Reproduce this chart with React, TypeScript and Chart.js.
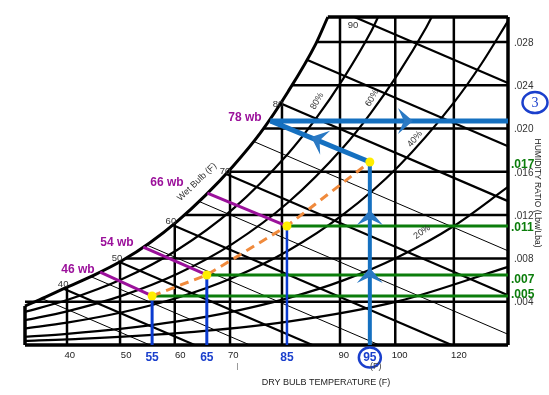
import React, { useEffect, useRef } from "react";
import { Chart, registerables } from "chart.js";

Chart.register(...registerables);

// ---------- data: dry-bulb (°F) and humidity ratio (lbw/lba) ----------
const xMin = 32.4;
const xMax = 119.8;
const yMax = 0.0303;

// saturation (100%) curve
const satDB = [32.4, 35, 40, 45, 50, 55, 60, 65, 70, 75, 80, 85, 87.2];
const satW = [0.0036, 0.00417, 0.00534, 0.00648, 0.0078, 0.00945, 0.01145, 0.0138, 0.0165, 0.0196, 0.0234, 0.0278, 0.0303];

// relative humidity curves
const rh80DB = [32.4, 40, 50, 60, 70, 80, 85, 90, 95, 96.3];
const rh80W = [0.00306, 0.00415, 0.00609, 0.0088, 0.01255, 0.01767, 0.02088, 0.02461, 0.02893, 0.0303];
const rh60DB = [32.4, 40, 50, 60, 70, 80, 90, 95, 100, 105, 106];
const rh60W = [0.00229, 0.00311, 0.00456, 0.00658, 0.00937, 0.01316, 0.01827, 0.02145, 0.02511, 0.02933, 0.0303];
const rh40DB = [32.4, 40, 50, 60, 70, 80, 90, 100, 110, 115, 119.8];
const rh40W = [0.00152, 0.00207, 0.00303, 0.00437, 0.00621, 0.00871, 0.01206, 0.01652, 0.02239, 0.02598, 0.02992];
const rh20DB = [32.4, 40, 50, 60, 70, 80, 90, 100, 110, 119.8];
const rh20W = [0.00076, 0.00103, 0.00151, 0.00218, 0.00309, 0.00433, 0.00597, 0.00815, 0.01099, 0.0146];
const rh10DB = [32.4, 40, 60, 80, 100, 119.8];
const rh10W = [0.00038, 0.00052, 0.00109, 0.00216, 0.00405, 0.00722];

// wet-bulb lines
const wbTemps = [35, 40, 45, 50, 55, 60, 65, 70, 75, 80, 85, 90];
const wbStartDB = [35.5, 39.4, 44.3, 49.5, 54.4, 59.1, 63.9, 68.7, 73.7, 78.6, 83.4, 92.0];
const wbStartW = [0.00428, 0.0052, 0.00632, 0.00766, 0.00924, 0.01108, 0.01326, 0.01582, 0.01882, 0.02233, 0.02636, 0.0303];
const wbEndDB = [55.0, 63.1, 73.1, 84.4, 96.5, 109.6, 119.8, 119.8, 119.8, 119.8, 119.8, 119.8];
const wbEndW = [0, 0, 0, 0, 0, 0, 0.00099, 0.0046, 0.0087, 0.01329, 0.01837, 0.0242];

// dry-bulb grid (vertical) and humidity-ratio grid (horizontal)
const dbGridDB = [40, 49.6, 59.5, 69.5, 78.9, 89.4, 99.4, 110];
const dbGridTopW = [0.00534, 0.0077, 0.01125, 0.01623, 0.02256, 0.0303, 0.0303, 0.0303];
const wGridW = [0.004, 0.008, 0.012, 0.016, 0.02, 0.024, 0.028];
const wGridStartDB = [32.4, 50.6, 61.2, 69.1, 75.5, 80.7, 85.2];

// process states
const stateDB = [55.4, 65.3, 79.8, 94.8];
const stateW = [0.00453, 0.00647, 0.01099, 0.01691];
const stateDBLabels = ["55", "65", "85", "95"];
const stateWLabels = [".017", ".011", ".007", ".005"];
const stateWLabelW = [0.01663, 0.0108, 0.006, 0.00462];

// wet-bulb process lines
const wbLineLabels = ["46 wb", "54 wb", "66 wb", "78 wb"];
const wbLineStartDB = [46.0, 53.8, 65.4, 76.8];
const wbLineStartW = [0.00674, 0.00905, 0.01404, 0.0207];
const wbLabelDB = [41.99, 49.05, 58.1, 72.21];
const wbLabelW = [0.00693, 0.00942, 0.01497, 0.02097];

// arrows
const arrowDB = [102.6, 84.2, 94.8, 94.8];
const arrowW = [0.0207, 0.01921, 0.00711, 0.01247];

// axis / chart text
const xTickLabels = ["40", "50", "60", "70", "90", "100", "120"];
const xTickDB = [40.5, 50.7, 60.5, 70.1, 90.1, 100.2, 110.9];
const wTickLabels = [".028", ".024", ".020", ".016", ".012", ".008", ".004"];
const wTickValues = [0.028, 0.024, 0.02, 0.016, 0.012, 0.008, 0.004];
const wbNumLabels = ["40", "50", "60", "70", "80", "90"];
const wbNumDB = [39.3, 49.05, 58.8, 68.6, 78.2, 91.75];
const wbNumW = [0.00564, 0.00804, 0.01146, 0.01607, 0.02226, 0.02956];
const rhLabels = ["80%", "60%", "40%", "20%"];
const rhLabelDB = [85.24, 95.19, 102.97, 104.24];
const rhLabelW = [0.02254, 0.02282, 0.01903, 0.01044];

const SANS = '"Liberation Sans", Arial, sans-serif';
const BLACK = "#000";
const BLUE = "#1570c0";
const DBLUE = "#0b3bd0";
const LBLUE = "#1a3fcc";
const GREEN = "#0b7d0b";
const PURPLE = "#9b119b";
const ORANGE = "#f08a3c";

const pts = (xs: number[], ys: number[]) => xs.map((x, i) => ({ x, y: ys[i] }));

const annotPlugin = {
  id: "annot",
  afterDatasetsDraw(chart: any) {
    const ctx: CanvasRenderingContext2D = chart.ctx;
    const xs = chart.scales.x;
    const ys = chart.scales.y;
    const ca = chart.chartArea;
    const X = (v: number) => xs.getPixelForValue(v);
    const Y = (v: number) => ys.getPixelForValue(v);

    const text = (s: string, x: number, y: number, font: string, color: string, align: CanvasTextAlign = "center", rot = 0) => {
      ctx.save();
      ctx.translate(x, y);
      if (rot) ctx.rotate((rot * Math.PI) / 180);
      ctx.font = font;
      ctx.fillStyle = color;
      ctx.textAlign = align;
      ctx.textBaseline = "middle";
      ctx.fillText(s, 0, 0);
      ctx.restore();
    };
    const arrow = (x: number, y: number, ang: number, color: string) => {
      ctx.save();
      ctx.translate(x, y);
      ctx.rotate(ang);
      ctx.beginPath();
      ctx.moveTo(0, 0);
      ctx.lineTo(-15, -13);
      ctx.lineTo(-9, 0);
      ctx.lineTo(-15, 13);
      ctx.closePath();
      ctx.fillStyle = color;
      ctx.fill();
      ctx.restore();
    };

    // arrows
    const s4x = X(stateDB[3]), s4y = Y(stateW[3]);
    const cx = X(wbLineStartDB[3]), cy = Y(wbLineStartW[3]);
    const angs = [0, Math.atan2(cy - s4y, cx - s4x), -Math.PI / 2, -Math.PI / 2];
    arrowDB.forEach((d, i) => arrow(X(d), Y(arrowW[i]), angs[i], "#2a79c4"));

    // wet-bulb numbers on saturation curve
    wbNumLabels.forEach((s, i) => text(s, X(wbNumDB[i]), Y(wbNumW[i]), `9.5px ${SANS}`, "#333"));
    text("Wet Bulb (F)", X(63.52), Y(0.01506), `9px ${SANS}`, "#333", "center", -44);

    // RH labels
    const rhRot = [-60, -60, -50, -35];
    rhLabels.forEach((s, i) => text(s, X(rhLabelDB[i]), Y(rhLabelW[i]), `9px ${SANS}`, "#333", "center", rhRot[i]));

    // wet-bulb process labels
    wbLineLabels.forEach((s, i) => text(s, X(wbLabelDB[i]), Y(wbLabelW[i]), `bold 12px ${SANS}`, PURPLE));

    // right axis ticks
    wTickLabels.forEach((s, i) => text(s, ca.right + 6, Y(wTickValues[i]) + 1, `10px ${SANS}`, "#333", "left"));
    // green state humidity labels
    stateWLabels.forEach((s, i) => text(s, ca.right + 3, Y(stateWLabelW[i]), `bold 12px ${SANS}`, GREEN, "left"));

    // bottom ticks
    xTickLabels.forEach((s, i) => text(s, X(xTickDB[i]), ca.bottom + 10, `9.5px ${SANS}`, "#222"));
    stateDBLabels.forEach((s, i) => text(s, X(stateDB[i]), ca.bottom + 13, `bold 12px ${SANS}`, LBLUE));

    // circles
    ctx.save();
    ctx.strokeStyle = LBLUE;
    ctx.lineWidth = 2.5;
    ctx.beginPath();
    ctx.ellipse(X(stateDB[3]), ca.bottom + 12.5, 11, 10, 0, 0, Math.PI * 2);
    ctx.stroke();
    ctx.beginPath();
    ctx.ellipse(ca.right + 27, Y(0.0224), 12.5, 10.5, 0, 0, Math.PI * 2);
    ctx.stroke();
    ctx.restore();
    text("3", ca.right + 27, Y(0.0224) + 0.5, `14px "Liberation Serif", serif`, LBLUE);

    // small axis marks
    text("(F)", X(stateDB[3]) + 6, ca.bottom + 22, `9px ${SANS}`, "#444");
    ctx.save();
    ctx.strokeStyle = "#999";
    ctx.lineWidth = 1;
    ctx.beginPath();
    ctx.moveTo(X(70.76) + 0.5, ca.bottom + 18);
    ctx.lineTo(X(70.76) + 0.5, ca.bottom + 25);
    ctx.stroke();
    ctx.restore();

    // axis titles
    text("DRY BULB TEMPERATURE (F)", 326, ca.bottom + 38, `9px ${SANS}`, "#222");
    text("HUMIDITY RATIO (Lbw/Lba)", ca.right + 29, 193, `8.5px ${SANS}`, "#222", "center", 90);
  },
};

export default function App() {
  const ref = useRef<HTMLCanvasElement>(null);

  useEffect(() => {
    const canvas = ref.current;
    if (!canvas) return;
    const datasets: any[] = [];
    const add = (data: any[], color: string, width: number, order: number, extra: any = {}) =>
      datasets.push({
        data,
        borderColor: color,
        backgroundColor: color,
        borderWidth: width,
        pointRadius: 0,
        showLine: true,
        fill: false,
        tension: 0,
        clip: false,
        order,
        ...extra,
      });

    // frame
    add(pts([xMin, xMin], [0, satW[0]]), BLACK, 3.5, 9);
    add(pts([xMin, xMax], [0, 0]), BLACK, 3.5, 9);
    add(pts([xMax, xMax], [0, yMax]), BLACK, 3.5, 9);
    add(pts([satDB[satDB.length - 1], xMax], [yMax, yMax]), BLACK, 3.5, 9);
    // saturation
    add(pts(satDB, satW), BLACK, 3, 9, { cubicInterpolationMode: "monotone" });
    // RH curves
    [
      [rh80DB, rh80W],
      [rh60DB, rh60W],
      [rh40DB, rh40W],
      [rh20DB, rh20W],
      [rh10DB, rh10W],
    ].forEach(([a, b]) => add(pts(a, b), BLACK, 2.2, 9, { cubicInterpolationMode: "monotone" }));
    // dry bulb grid
    dbGridDB.forEach((d, i) => add(pts([d, d], [0, dbGridTopW[i]]), BLACK, 2.5, 9));
    // humidity grid
    wGridW.forEach((w, i) => add(pts([wGridStartDB[i], xMax], [w, w]), BLACK, 2.5, 9));
    // wet-bulb lines
    wbTemps.forEach((t, i) => {
      const thick = t % 10 === 0 || t === 85;
      add(pts([wbStartDB[i], wbEndDB[i]], [wbStartW[i], wbEndW[i]]), BLACK, thick ? 2.2 : 1, 9);
    });

    // green humidity lines from states 1..3
    for (let i = 0; i < 3; i++) add(pts([stateDB[i], xMax], [stateW[i], stateW[i]]), GREEN, 3, 5);
    // dark-blue dry bulb drops
    for (let i = 0; i < 3; i++) add(pts([stateDB[i], stateDB[i]], [0, stateW[i]]), DBLUE, i === 2 ? 2.5 : 3, 4);
    // purple wet-bulb segments
    for (let i = 0; i < 3; i++)
      add(pts([wbLineStartDB[i], stateDB[i]], [wbLineStartW[i], stateW[i]]), PURPLE, 3, 4);
    // orange dashed path
    add(pts(stateDB, stateW), ORANGE, 3, 3, { borderDash: [9, 6] });
    // main blue process
    add(pts([stateDB[3], stateDB[3]], [0, stateW[3]]), BLUE, 4, 2);
    add(pts([stateDB[3], wbLineStartDB[3]], [stateW[3], wbLineStartW[3]]), BLUE, 5, 2);
    add(pts([wbLineStartDB[3], xMax], [wbLineStartW[3], wbLineStartW[3]]), BLUE, 5, 2);
    // state points
    datasets.push({
      data: pts(stateDB, stateW),
      showLine: false,
      pointRadius: 4.5,
      pointBackgroundColor: "#ffee00",
      pointBorderWidth: 0,
      clip: false,
      order: 0,
    });

    const chart = new Chart(canvas, {
      type: "scatter",
      data: { datasets },
      options: {
        animation: false,
        responsive: false,
        maintainAspectRatio: false,
        devicePixelRatio: 1,
        events: [],
        layout: { padding: { left: 25, right: 41, top: 17, bottom: 50 } },
        scales: {
          x: { type: "linear", min: xMin, max: xMax, display: false },
          y: { type: "linear", min: 0, max: yMax, display: false },
        },
        plugins: { legend: { display: false }, tooltip: { enabled: false } },
      },
      plugins: [annotPlugin],
    } as any);
    return () => chart.destroy();
  }, []);

  return (
    <div style={{ position: "absolute", left: 0, top: 0, width: 549, height: 395, background: "#fff" }}>
      <canvas ref={ref} width={549} height={395} style={{ display: "block", width: 549, height: 395 }} />
    </div>
  );
}
